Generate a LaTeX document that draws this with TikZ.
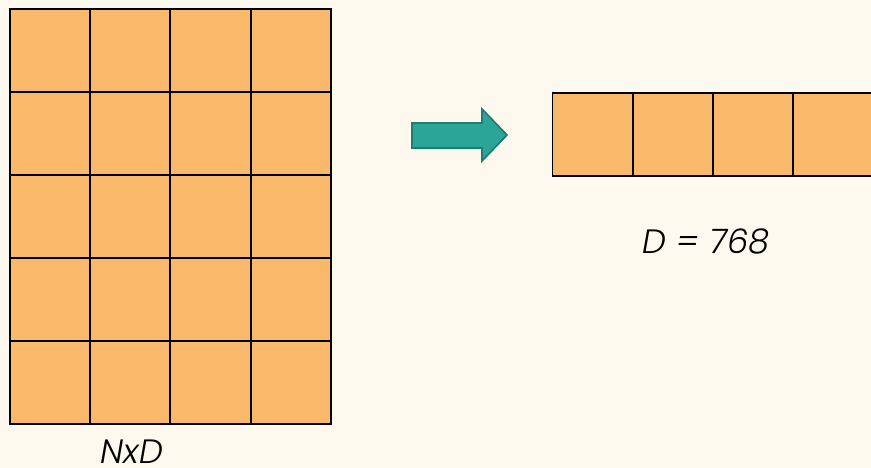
\documentclass[tikz,border=0pt]{standalone}
\usepackage{xcolor}
\usepackage{tikz}
\usepackage{fontspec}
\setmainfont{Poppins}[ItalicFont={Poppins Light Italic}]
\usetikzlibrary{calc}

\definecolor{paper}{HTML}{FEF9EE}
\definecolor{cellfill}{HTML}{F9B86A}
\definecolor{tealfill}{HTML}{2BA597}
\definecolor{tealline}{HTML}{1E7D71}

\tikzset{
	cell/.style={draw=black,fill=cellfill,line width=1.2pt,minimum width=2cm,minimum height=2.075cm,inner sep=0pt},
	label/.style={font=\fontsize{24}{28}\selectfont\itshape}
}

\begin{document}
\begin{tikzpicture}[x=0.025cm,y=-0.025cm]
		\fill[paper] (0,0) rectangle (871,468);
		\useasboundingbox (0,0) rectangle (871,468);
		\clip (0,0) rectangle (871,468);
		% NxD matrix
		\foreach \r in {0,...,4}
			\foreach \c in {0,...,3}
				\node[cell] (m-\r-\c) at ({50+80.25*\c},{50.5+83*\r}) {};
		% one row
		\foreach \c in {0,...,3}
			\node[cell] (v-\c) at ({592.5+80.25*\c},134.5) {};
		% arrow
		\coordinate (A1) at (412,123);
		\coordinate (A2) at (482,123);
		\coordinate (A3) at (482,109);
		\coordinate (A4) at (507,135);
		\coordinate (A5) at (482,161);
		\coordinate (A6) at (482,148);
		\coordinate (A7) at (412,148);
		\draw[tealline,fill=tealfill,line width=1.2pt,line join=miter] (A1) -- (A2) -- (A3) -- (A4) -- (A5) -- (A6) -- (A7) -- cycle;
		\node[label] (nd) at (132,452) {NxD};
		\node[label] (dd) at (706,241) {D = 768};
	\end{tikzpicture}
\end{document}
